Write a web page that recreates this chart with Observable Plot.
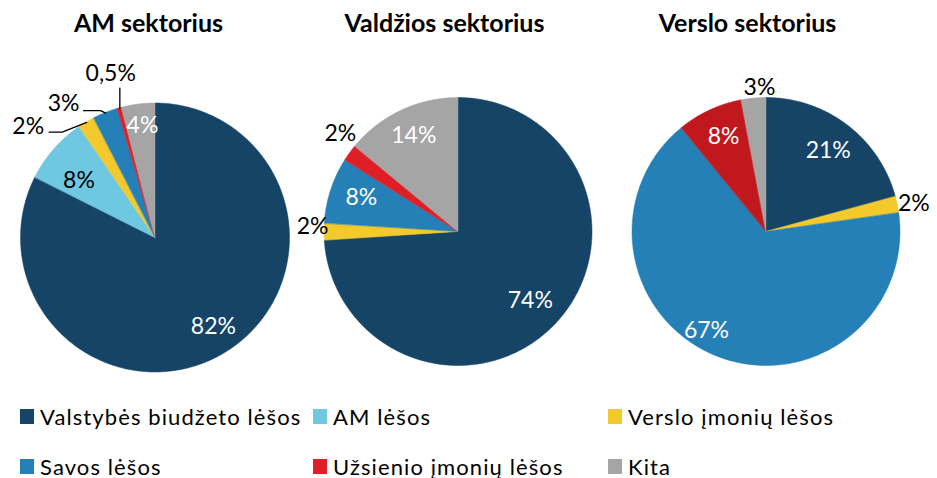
<!DOCTYPE html>
<html>
<head>
<meta charset="utf-8">
<script src="https://cdn.jsdelivr.net/npm/d3@7"></script>
<script src="https://cdn.jsdelivr.net/npm/@observablehq/plot@0.6"></script>
<style>
  html, body { margin: 0; padding: 0; background: #fff; }
  body { width: 937px; height: 478px; overflow: hidden; font-family: Lato, "Noto Sans", sans-serif; }
  #legend { position: relative; width: 937px; height: 88px; }
  .item { position: absolute; display: flex; align-items: center; font-size: 22px; color: #000; white-space: nowrap; letter-spacing: 1.1px; }
  .sw { width: 14px; height: 15px; margin-right: 6px; flex: none; }
  g[aria-label="title"] text { letter-spacing: 1px; }
</style>
</head>
<body>
<div id="chart"></div>
<div id="legend"></div>
<script>
// ---------- data ----------
const sectors = ["AM sektorius", "Valdžios sektorius", "Verslo sektorius"];
const categories = ["Valstybės biudžeto lėšos", "AM lėšos", "Verslo įmonių lėšos", "Savos lėšos", "Užsienio įmonių lėšos", "Kita"];
const amValues = [82, 8, 2, 3, 0.5, 4];
const valdziosValues = [74, 0, 2, 8, 2, 14];
const versloValues = [21, 0, 2, 67, 8, 3];
const amLabels = ["82%", "8%", "2%", "3%", "0,5%", "4%"];
const valdziosLabels = ["74%", "", "2%", "8%", "2%", "14%"];
const versloLabels = ["21%", "", "2%", "67%", "8%", "3%"];

// ---------- styles / layout ----------
const palette = ["#154466", "#6fc8e1", "#f3c92b", "#2480b6", "#df1f26", "#a5a5a5"];
const W = 937, H = 390;
const layout = [
  { cx: 155, cy: 237.5, R: 134.5, titleX: 148,
    labelPolar: [[147, .79], [306.7, .71], [311.3, 1.26], [325.6, 1.21], [344.8, 1.27], [353.4, .84]],
    labelInk: ["#fff", "#000", "#000", "#000", "#000", "#fff"],
    leaders: [null, null, {dx: 21, dy: 6, run: 13}, {dx: 20, dy: 7, run: 17}, {vertical: true, dy: 15}, null],
    colors: palette },
  { cx: 458, cy: 231.5, R: 134, titleX: 444,
    labelPolar: [[133.6, .74], null, [272.2, 1.09], [289.6, .77], [309.9, 1.15], [335, .79]],
    labelInk: ["#fff", "#000", "#000", "#fff", "#000", "#fff"],
    leaders: [], colors: palette },
  { cx: 766, cy: 231.5, R: 134, titleX: 747,
    labelPolar: [[37.3, .76], null, [79, 1.12], [211.4, .86], [335.8, .78], [357.2, 1.08]],
    labelInk: ["#fff", "#000", "#000", "#fff", "#fff", "#000"],
    leaders: [], colors: ["#154466", "#6fc8e1", "#f3c92b", "#2480b6", "#c1181d", "#a5a5a5"] }
];

const allValues = [amValues, valdziosValues, versloValues];
const allLabels = [amLabels, valdziosLabels, versloLabels];

const rad = a => a * Math.PI / 180;
const polar = (L, ang, r) => ({ x: L.cx + L.R * r * Math.sin(rad(ang)), y: L.cy - L.R * r * Math.cos(rad(ang)) });

const wedgePts = [], labelRows = [], leaderPts = [], titleRows = [];
sectors.forEach((s, si) => {
  const L = layout[si], vals = allValues[si];
  const total = d3.sum(vals);
  let acc = 0;
  titleRows.push({ title: s, x: L.titleX, y: 23 });
  vals.forEach((v, ci) => {
    const a0 = acc / total * 360, a1 = (acc + v) / total * 360;
    acc += v;
    if (v <= 0) return;
    const n = Math.max(2, Math.ceil((a1 - a0) / 0.5));
    for (let k = 0; k <= n; k++) {
      const p = polar(L, a0 + (a1 - a0) * k / n, 1);
      wedgePts.push({ key: s + ci, cx: L.cx, cy: L.cy, x: p.x, y: p.y, color: L.colors[ci] });
    }
    const lp = L.labelPolar[ci];
    const txt = allLabels[si][ci];
    if (lp && txt) {
      const p = polar(L, lp[0], lp[1]);
      labelRows.push({ text: txt, x: p.x, y: p.y, ink: L.labelInk[ci] });
      const ld = L.leaders[ci];
      if (ld) {
        const end = polar(L, (a0 + a1) / 2, 1);
        if (ld.vertical) {
          leaderPts.push({ id: s + ci, x: end.x, y: p.y + ld.dy }, { id: s + ci, x: end.x, y: end.y });
        } else {
          const sx = p.x + ld.dx, sy = p.y + ld.dy;
          leaderPts.push({ id: s + ci, x: sx, y: sy }, { id: s + ci, x: sx + ld.run, y: sy }, { id: s + ci, x: end.x, y: end.y });
        }
      }
    }
  });
});

const chart = Plot.plot({
  width: W, height: H,
  margin: 0,
  x: { domain: [0, W], range: [0, W], axis: null },
  y: { domain: [0, H], range: [0, H], axis: null },
  style: { fontFamily: "Lato, 'Noto Sans', sans-serif", background: "#fff" },
  marks: [
    Plot.area(wedgePts, { x1: "cx", y1: "cy", x2: "x", y2: "y", z: "key", fill: "color", stroke: "color", strokeWidth: 0.5 }),
    Plot.line(leaderPts, { x: "x", y: "y", z: "id", stroke: "#000", strokeWidth: 1.3 }),
    Plot.text(labelRows, { x: "x", y: "y", text: "text", fill: "ink", fontSize: 23 }),
    Plot.text(titleRows, { x: "x", y: "y", text: "title", fontSize: 25, fontWeight: "bold", fill: "#000", ariaLabel: "title" })
  ]
});
document.getElementById("chart").appendChild(chart);

// ---------- legend ----------
const legendCols = [20, 313, 608];
const legendRows = [26, 76];
const leg = document.getElementById("legend");
categories.forEach((c, i) => {
  const d = document.createElement("div");
  d.className = "item";
  d.style.left = legendCols[i % 3] + "px";
  d.style.top = (legendRows[Math.floor(i / 3)] - 12) + "px";
  d.style.height = "24px";
  d.innerHTML = `<span class="sw" style="background:${palette[i]}"></span><span>${c}</span>`;
  leg.appendChild(d);
});
</script>
</body>
</html>
